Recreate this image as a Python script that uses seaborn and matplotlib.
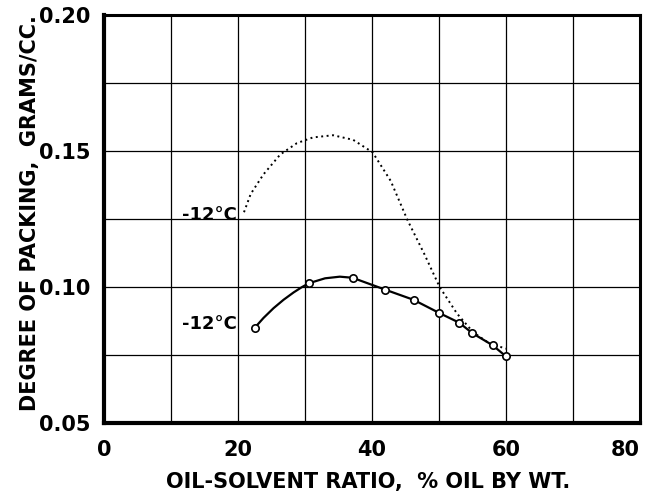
import numpy as np
import pandas as pd
import matplotlib
matplotlib.use('Agg')
import matplotlib.pyplot as plt
import seaborn as sns

# Số liệu
# Điểm đo (đường liền, vòng tròn rỗng)
pts_x = [22.5, 30.6, 37.1, 42.0, 46.2, 50.0, 53.0, 55.0, 58.0, 60.0]
pts_y = [0.0850, 0.1014, 0.1034, 0.0990, 0.0953, 0.0905, 0.0869, 0.0830, 0.0786, 0.0745]

# Đường liền vẽ tay qua các điểm
solid_x = [22.5, 23.8, 25.3, 26.8, 28.3, 29.5, 30.6, 33.0, 35.2, 37.1, 42.0, 46.2, 50.0, 53.0, 55.0, 58.0, 60.0]
solid_y = [0.0850, 0.0886, 0.0922, 0.0953, 0.0980, 0.0999, 0.1014, 0.1032, 0.1038, 0.1034,
           0.0990, 0.0953, 0.0905, 0.0869, 0.0830, 0.0786, 0.0745]

# Đường chấm
dot_x = [20.9, 21.9, 23.8, 26.3, 28.8, 31.2, 34.2, 37.2, 40.1, 42.8, 45.3, 47.8, 50.1, 52.7, 55.1, 57.6, 60.1]
dot_y = [0.1275, 0.1342, 0.1414, 0.1487, 0.1529, 0.1550, 0.1558, 0.1541, 0.1495, 0.1390,
         0.1246, 0.1122, 0.1000, 0.0902, 0.0834, 0.0791, 0.0773]

curve_labels = ['-12°C', '-12°C']
x_ticks = [0, 20, 40, 60, 80]
y_ticks = [0.05, 0.10, 0.15, 0.20]
y_ticklabels = ['0.05', '0.10', '0.15', '0.20']

sns.set_style('white')
plt.rcParams['font.family'] = ['DejaVu Sans']
plt.rcParams['text.color'] = 'black'

fig = plt.figure(figsize=(6.45, 4.99), dpi=100)
ax = fig.add_axes([0.1612, 0.1523, 0.8310, 0.8176])

pts = pd.DataFrame({'x': pts_x, 'y': pts_y})
solid = pd.DataFrame({'x': solid_x, 'y': solid_y})
dotted = pd.DataFrame({'x': dot_x, 'y': dot_y})

sns.lineplot(data=dotted, x='x', y='y', sort=False, color='black', lw=1.4,
             linestyle=(0, (1, 1.8)), ax=ax)
sns.lineplot(data=solid, x='x', y='y', sort=False, color='black', lw=1.6, ax=ax)
sns.scatterplot(data=pts, x='x', y='y', s=28, facecolor='white', edgecolor='black',
                linewidth=1.2, zorder=5, ax=ax)

ax.text(19.8, 0.1265, curve_labels[0], ha='right', va='center', fontsize=13,
        fontweight='bold', color='black')
ax.text(19.8, 0.0864, curve_labels[1], ha='right', va='center', fontsize=13,
        fontweight='bold', color='black')

ax.set_xlim(0, 80)
ax.set_ylim(0.05, 0.20)
ax.set_xticks(x_ticks)
ax.set_xticklabels([str(v) for v in x_ticks], fontweight='bold', fontsize=15)
ax.get_xticklabels()[-1].set_ha('right')
ax.set_xticks(np.arange(0, 81, 10), minor=True)
ax.set_yticks(y_ticks)
ax.set_yticklabels(y_ticklabels, fontweight='bold', fontsize=15)
ax.set_yticks(np.arange(0.05, 0.2001, 0.025), minor=True)
ax.grid(True, which='both', color='black', lw=0.9)
ax.tick_params(axis='both', which='both', length=0, colors='black')
ax.tick_params(axis='x', pad=12)
ax.tick_params(axis='y', pad=10)

for sp in ax.spines.values():
    sp.set_color('black')
    sp.set_linewidth(2.2)
ax.spines['left'].set_linewidth(3)
ax.spines['bottom'].set_linewidth(3)

ax.set_xlabel('OIL-SOLVENT RATIO,  % OIL BY WT.', fontsize=15, fontweight='bold', color='black')
ax.set_ylabel('DEGREE OF PACKING,  GRAMS/CC.', fontsize=15, fontweight='bold', color='black')
ax.xaxis.label.set_va('center')
ax.yaxis.label.set_va('center')
ax.xaxis.set_label_coords(0.493, -0.145)
ax.yaxis.set_label_coords(-0.138, 0.515)

fig.savefig('out.png', dpi=100)
